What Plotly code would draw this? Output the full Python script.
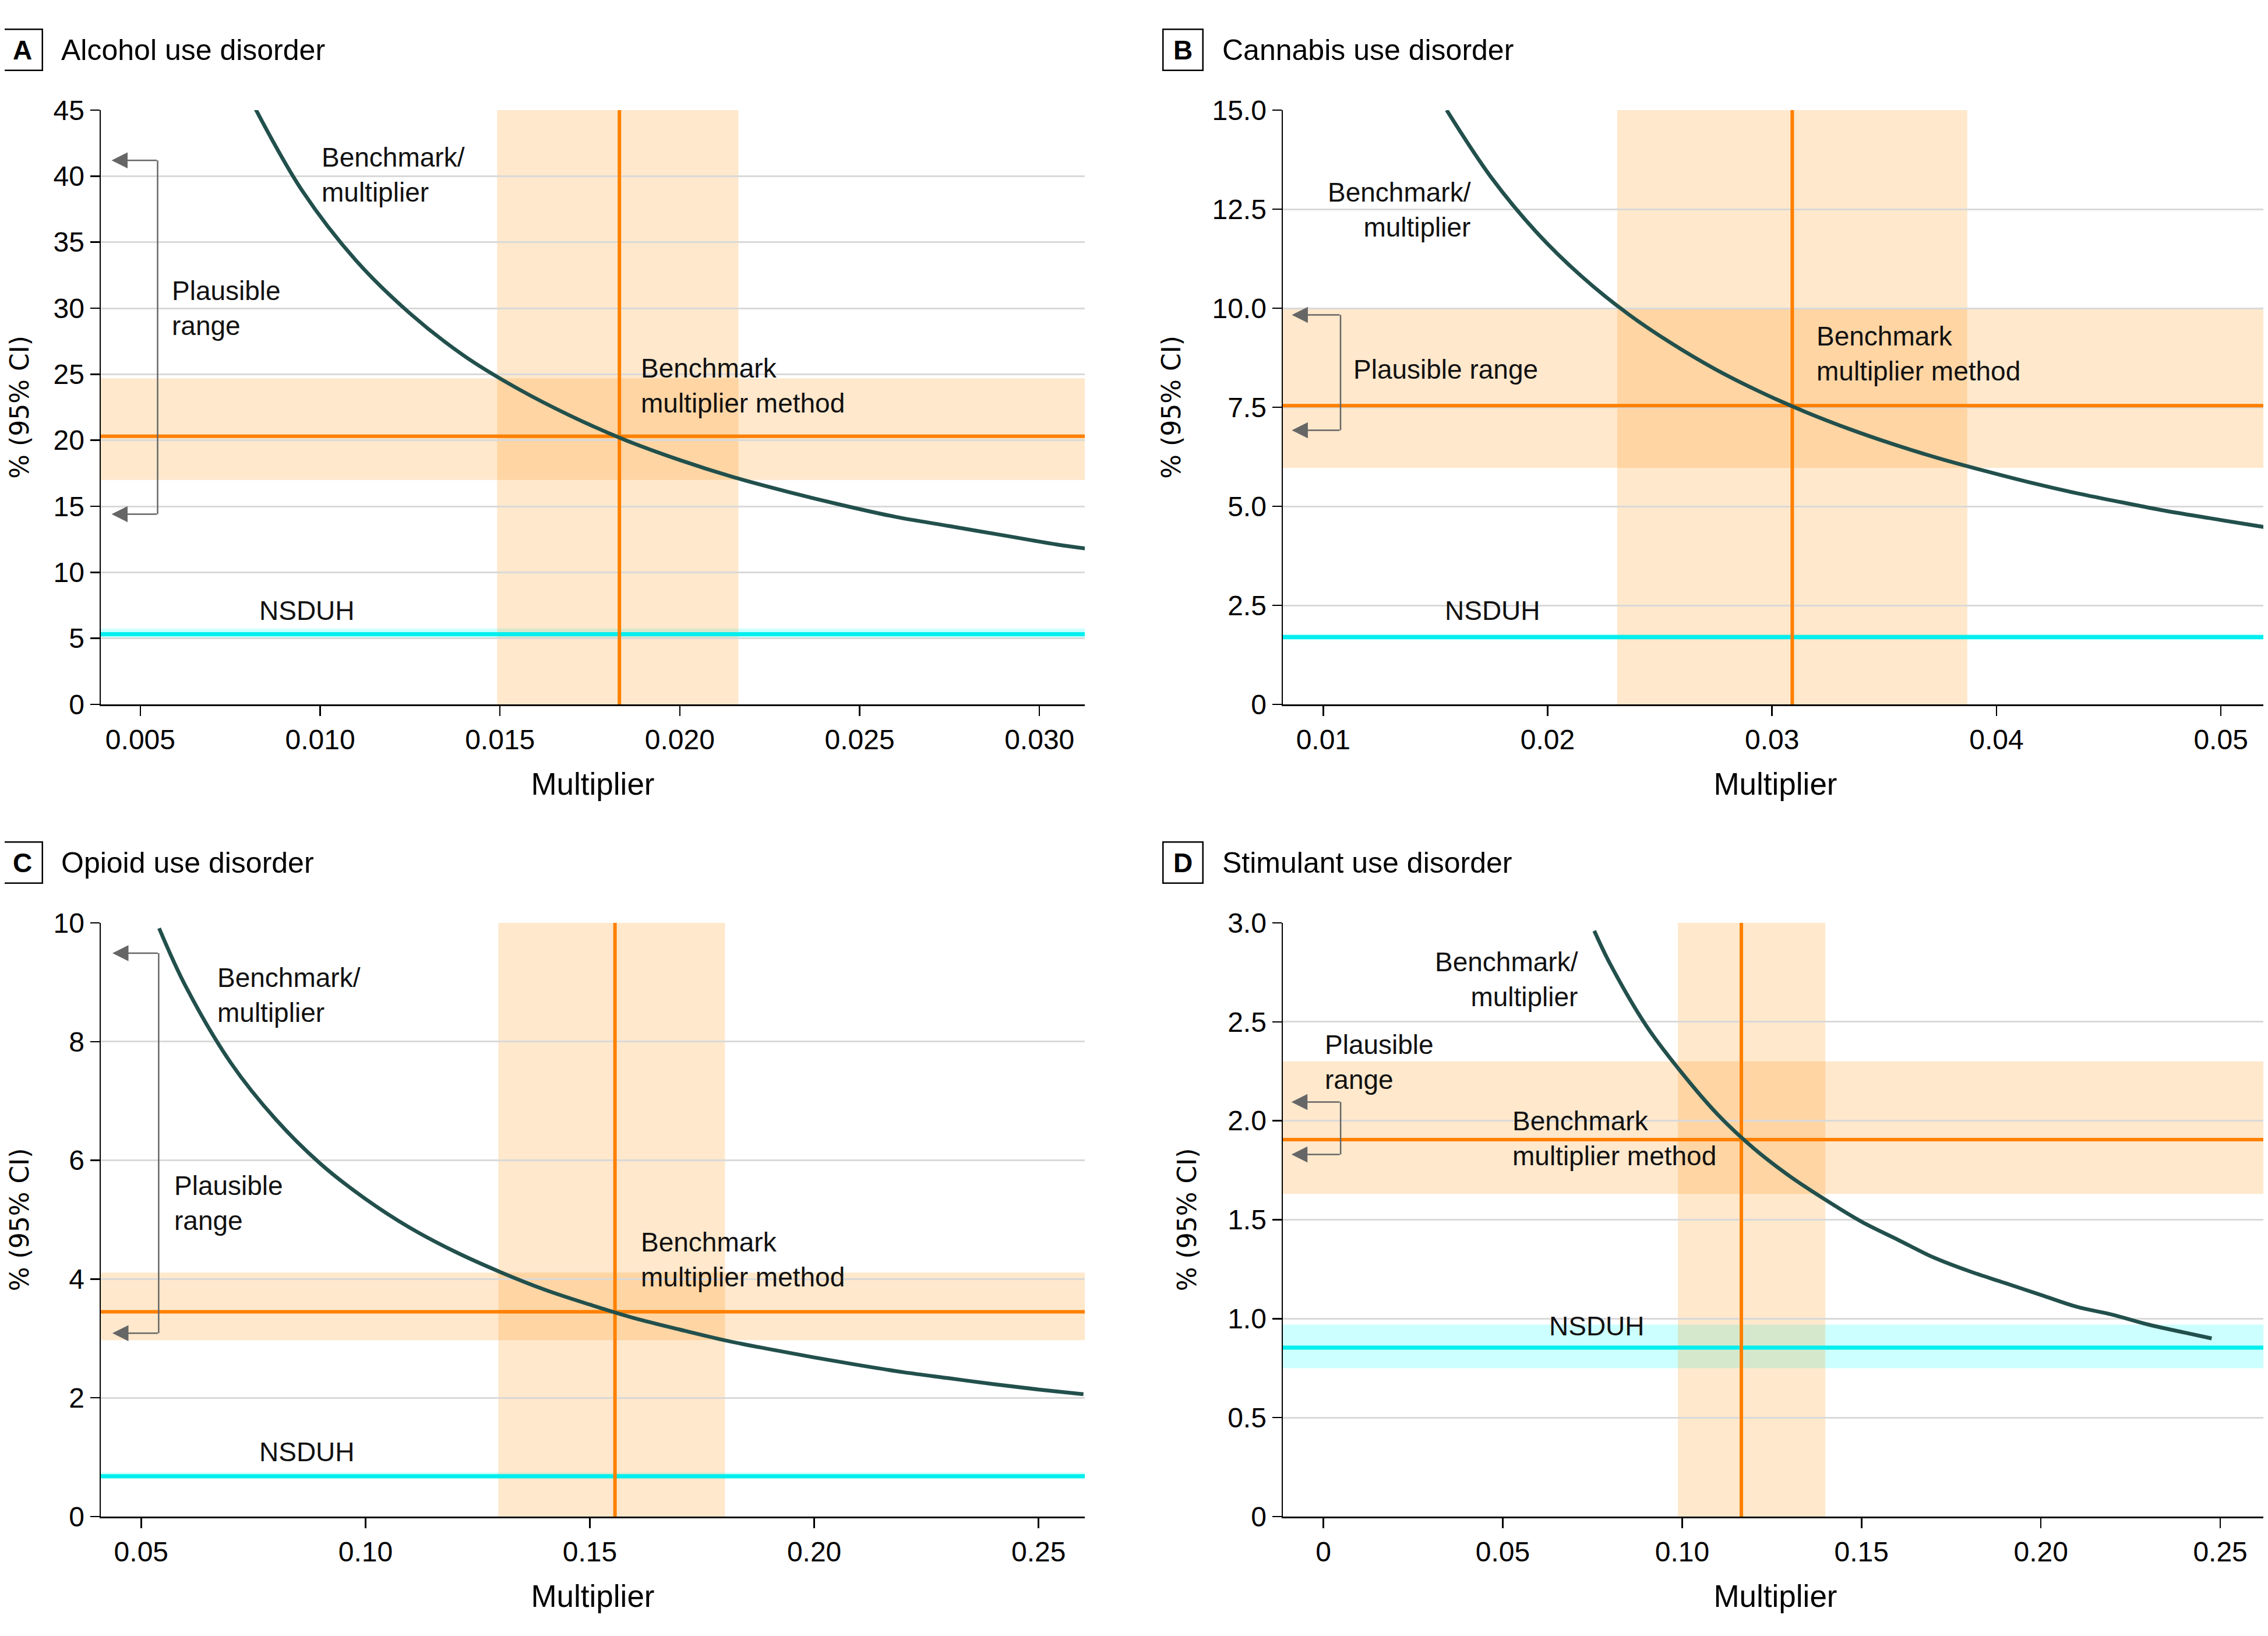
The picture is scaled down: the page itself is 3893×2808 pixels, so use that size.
import plotly.graph_objects as go

# ---------------- data ----------------
panel_letters = ["A", "B", "C", "D"]
panel_titles = ["Alcohol use disorder", "Cannabis use disorder",
                "Opioid use disorder", "Stimulant use disorder"]

# Benchmark/multiplier curves (multiplier -> prevalence %)
a_mult = [0.0082, 0.0095, 0.0110, 0.0125, 0.0140, 0.0155, 0.0170, 0.0185, 0.0200, 0.0215,
          0.0230, 0.0245, 0.0260, 0.0275, 0.0290, 0.0305, 0.0313]
a_prev = [45.1, 38.9, 33.6, 29.6, 26.4, 23.9, 21.8, 20.0, 18.5, 17.2,
          16.1, 15.1, 14.2, 13.5, 12.8, 12.1, 11.8]

b_mult = [0.0155, 0.0175, 0.0195, 0.0215, 0.0235, 0.0255, 0.0275, 0.0295, 0.0315, 0.0335,
          0.0355, 0.0375, 0.0395, 0.0415, 0.0435, 0.0455, 0.0475, 0.0495, 0.0521]
b_prev = [15.00, 13.29, 11.92, 10.81, 9.89, 9.12, 8.45, 7.88, 7.38, 6.94,
          6.55, 6.20, 5.89, 5.60, 5.34, 5.11, 4.89, 4.70, 4.46]

c_mult = [0.054, 0.06, 0.07, 0.08, 0.09, 0.10, 0.11, 0.12, 0.13, 0.14, 0.15,
          0.16, 0.17, 0.18, 0.19, 0.20, 0.21, 0.22, 0.23, 0.24, 0.25, 0.26]
c_prev = [9.91, 8.92, 7.64, 6.69, 5.94, 5.35, 4.86, 4.46, 4.12, 3.82, 3.57,
          3.34, 3.15, 2.97, 2.82, 2.68, 2.55, 2.43, 2.33, 2.23, 2.14, 2.06]

d_mult = [0.0755, 0.08, 0.09, 0.10, 0.11, 0.12, 0.13, 0.14, 0.15, 0.16, 0.17,
          0.18, 0.19, 0.20, 0.21, 0.22, 0.23, 0.24, 0.2476]
d_prev = [2.96, 2.79, 2.48, 2.24, 2.03, 1.86, 1.72, 1.60, 1.49, 1.40, 1.31,
          1.24, 1.18, 1.12, 1.06, 1.02, 0.97, 0.93, 0.90]

curve_mult = [a_mult, b_mult, c_mult, d_mult]
curve_prev = [a_prev, b_prev, c_prev, d_prev]

# Benchmark multiplier method estimate (%) and 95% CI
bm_est = [20.3, 7.54, 3.45, 1.905]
bm_lo = [17.0, 5.97, 2.97, 1.63]
bm_hi = [24.7, 10.0, 4.11, 2.30]

# Multiplier point estimate and 95% CI
mult_est = [0.01832, 0.0309, 0.1556, 0.1165]
mult_lo = [0.01492, 0.0231, 0.1296, 0.0988]
mult_hi = [0.02163, 0.0387, 0.1801, 0.1399]

# NSDUH estimate (%) and 95% CI
nsduh_est = [5.32, 1.70, 0.68, 0.854]
nsduh_lo = [5.05, 1.62, 0.63, 0.75]
nsduh_hi = [5.75, 1.78, 0.74, 0.97]

# Plausible range (%)
plaus_hi = [41.2, 9.83, 9.49, 2.095]
plaus_lo = [14.4, 6.92, 3.09, 1.83]

# axes
x_ranges = [[0.0039, 0.03126], [0.0082, 0.0521], [0.041, 0.2603], [-0.0113, 0.2633]]
y_ranges = [[0, 45], [0, 15], [0, 10], [0, 3]]

x_tickvals = [[0.005, 0.010, 0.015, 0.020, 0.025, 0.030],
              [0.01, 0.02, 0.03, 0.04, 0.05],
              [0.05, 0.10, 0.15, 0.20, 0.25],
              [0, 0.05, 0.10, 0.15, 0.20, 0.25]]
x_ticktext = [["0.005", "0.010", "0.015", "0.020", "0.025", "0.030"],
              ["0.01", "0.02", "0.03", "0.04", "0.05"],
              ["0.05", "0.10", "0.15", "0.20", "0.25"],
              ["0", "0.05", "0.10", "0.15", "0.20", "0.25"]]
y_tickvals = [[0, 5, 10, 15, 20, 25, 30, 35, 40, 45],
              [0, 2.5, 5, 7.5, 10, 12.5, 15],
              [0, 2, 4, 6, 8, 10],
              [0, 0.5, 1, 1.5, 2, 2.5, 3]]
y_ticktext = [["0", "5", "10", "15", "20", "25", "30", "35", "40", "45"],
              ["0", "2.5", "5.0", "7.5", "10.0", "12.5", "15.0"],
              ["0", "2", "4", "6", "8", "10"],
              ["0", "0.5", "1.0", "1.5", "2.0", "2.5", "3.0"]]

# label placements (data coordinates)
bmcurve_lbl = [(0.0100, 40.1, "left"), (0.01665, 12.49, "right"), (0.0667, 8.78, "left"), (0.0714, 2.715, "right")]
plaus_lbl = [(0.00585, 30.0, "Plausible<br>range"), (0.01129, 8.45, "Plausible range"),
             (0.0571, 5.28, "Plausible<br>range"), (0.0, 2.296, "Plausible<br>range")]
method_lbl = [(0.01889, 24.14), (0.03194, 8.85), (0.1611, 4.33), (0.0524, 1.912)]
nsduh_lbl = [(0.00963, 7.1), (0.01755, 2.37), (0.087, 1.09), (0.0762, 0.963)]
bracket_x = [0.00548, 0.01077, 0.0539, 0.0048]
arrow_tip_x = [0.0042, 0.0086, 0.0436, -0.0089]

# ---------------- styling ----------------
PAGE_W, PAGE_H = 3893, 2808
OFF = 8  # default page margin around the plot div
W, H = PAGE_W - OFF, PAGE_H - OFF


def px_x(p):
    return (p - OFF) / W


def px_y(p):
    return 1 - (p - OFF) / H


FONT = "Liberation Sans, Arial, sans-serif"
ORANGE = "#FF8000"
BAND = "rgba(255,140,0,0.2)"
CYAN = "#00EEEE"
CYAN_BAND = "rgba(0,255,255,0.2)"
CURVE = "#22504C"
GRID = "#D9D9D9"
ARROW = "#666666"

x_domains = [[px_x(173), px_x(1862)], [px_x(2202), 1.0], [px_x(173), px_x(1862)], [px_x(2202), 1.0]]
y_domains = [[px_y(1209), px_y(189)], [px_y(1209), px_y(189)],
             [px_y(2603), px_y(1584)], [px_y(2603), px_y(1584)]]

fig = go.Figure()
shapes = []
annotations = []
layout_axes = {}

for i in range(4):
    n = i + 1
    xa = "x" if n == 1 else f"x{n}"
    ya = "y" if n == 1 else f"y{n}"
    x0, x1 = x_ranges[i]
    y0, y1 = y_ranges[i]

    # bands
    shapes.append(dict(type="rect", xref=f"{xa} domain", yref=ya, x0=0, x1=1,
                       y0=bm_lo[i], y1=bm_hi[i], fillcolor=BAND, line_width=0, layer="below"))
    shapes.append(dict(type="rect", xref=xa, yref=ya, x0=mult_lo[i], x1=mult_hi[i],
                       y0=y0, y1=y1, fillcolor=BAND, line_width=0, layer="below"))
    shapes.append(dict(type="rect", xref=f"{xa} domain", yref=ya, x0=0, x1=1,
                       y0=nsduh_lo[i], y1=nsduh_hi[i], fillcolor=CYAN_BAND, line_width=0, layer="below"))
    # plausible range bracket
    shapes.append(dict(type="line", xref=xa, yref=ya, x0=bracket_x[i], x1=bracket_x[i],
                       y0=plaus_lo[i], y1=plaus_hi[i], line=dict(color=ARROW, width=2.5)))

    # lines
    fig.add_trace(go.Scatter(x=[x0, x1], y=[nsduh_est[i]] * 2, mode="lines",
                             line=dict(color=CYAN, width=7), xaxis=xa, yaxis=ya, hoverinfo="skip"))
    fig.add_trace(go.Scatter(x=[x0, x1], y=[bm_est[i]] * 2, mode="lines",
                             line=dict(color=ORANGE, width=6), xaxis=xa, yaxis=ya, hoverinfo="skip"))
    fig.add_trace(go.Scatter(x=[mult_est[i]] * 2, y=[y0, y1], mode="lines",
                             line=dict(color=ORANGE, width=6), xaxis=xa, yaxis=ya, hoverinfo="skip"))
    fig.add_trace(go.Scatter(x=curve_mult[i], y=curve_prev[i], mode="lines",
                             line=dict(color=CURVE, width=6.5, shape="spline", smoothing=1.0),
                             xaxis=xa, yaxis=ya, hoverinfo="skip"))

    # arrows of the plausible range
    for yv in (plaus_hi[i], plaus_lo[i]):
        annotations.append(dict(xref=xa, yref=ya, x=arrow_tip_x[i], y=yv, ax=bracket_x[i], ay=yv,
                                axref=xa, ayref=ya, text="", showarrow=True, arrowhead=2,
                                arrowsize=2.2, arrowwidth=2.5, arrowcolor=ARROW, standoff=0))

    txtfont = dict(family=FONT, size=46, color="#111111")
    bx, by, al = bmcurve_lbl[i]
    annotations.append(dict(xref=xa, yref=ya, x=bx, y=by, text="Benchmark/<br>multiplier",
                            xanchor=al, yanchor="middle", align=al, showarrow=False, font=txtfont))
    px_, py_, pt = plaus_lbl[i]
    annotations.append(dict(xref=xa, yref=ya, x=px_, y=py_, text=pt, xanchor="left",
                            yanchor="middle", align="left", showarrow=False, font=txtfont))
    mx, my = method_lbl[i]
    annotations.append(dict(xref=xa, yref=ya, x=mx, y=my, text="Benchmark<br>multiplier method",
                            xanchor="left", yanchor="middle", align="left", showarrow=False, font=txtfont))
    nx, ny = nsduh_lbl[i]
    annotations.append(dict(xref=xa, yref=ya, x=nx, y=ny, text="NSDUH", xanchor="center",
                            yanchor="middle", showarrow=False, font=txtfont))

    # panel heading
    col = i % 2
    row = i // 2
    box_cx = [38, 2030][col]
    txt_x = [103, 2096][col]
    cy = [86, 1481][row]
    annotations.append(dict(xref="paper", yref="paper", x=px_x(box_cx), y=px_y(cy),
                            text=f"<b>{panel_letters[i]}</b>", showarrow=False,
                            xanchor="center", yanchor="middle", width=66, height=68,
                            borderpad=0, bordercolor="black", borderwidth=2.5,
                            font=dict(family=FONT, size=46, color="black")))
    annotations.append(dict(xref="paper", yref="paper", x=px_x(txt_x), y=px_y(cy),
                            text=panel_titles[i], showarrow=False, xanchor="left", yanchor="middle",
                            font=dict(family=FONT, size=50, color="black")))

    xkey = "xaxis" if n == 1 else f"xaxis{n}"
    ykey = "yaxis" if n == 1 else f"yaxis{n}"
    layout_axes[xkey] = dict(
        domain=x_domains[i], anchor=ya, range=x_ranges[i], showgrid=False, zeroline=False,
        showline=True, linecolor="black", linewidth=2.5, ticks="outside", ticklen=17,
        tickwidth=2.5, tickcolor="black", tickvals=x_tickvals[i], ticktext=x_ticktext[i],
        tickfont=dict(family=FONT, size=48, color="black"), automargin=False, fixedrange=True,
        title=dict(text="Multiplier", font=dict(family=FONT, size=53, color="black"), standoff=32))
    layout_axes[ykey] = dict(
        domain=y_domains[i], anchor=xa, range=y_ranges[i], showgrid=True, gridcolor=GRID,
        gridwidth=3, zeroline=False, showline=True, linecolor="black", linewidth=2.5,
        ticks="outside", ticklen=16, tickwidth=2.5, tickcolor="black",
        tickvals=y_tickvals[i], ticktext=y_ticktext[i],
        tickfont=dict(family=FONT, size=48, color="black"), automargin=False, fixedrange=True,
        title=dict(text="% (95% CI)", font=dict(family="DejaVu Sans, sans-serif", size=44, color="black"),
                   standoff=40))

fig.update_layout(
    width=W, height=H, margin=dict(l=0, r=0, t=0, b=0),
    paper_bgcolor="white", plot_bgcolor="white", showlegend=False,
    shapes=shapes, annotations=annotations, **layout_axes)

fig.write_html("out.html", config={"displayModeBar": False, "staticPlot": True})
